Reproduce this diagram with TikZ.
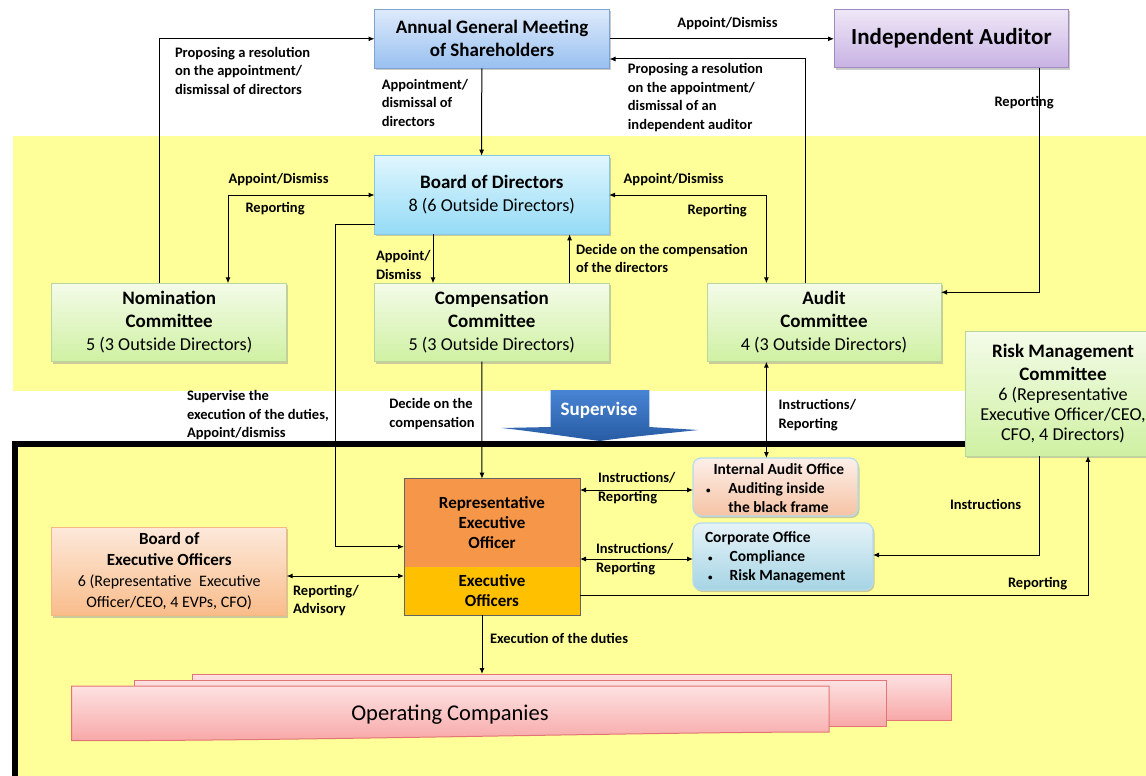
\documentclass[tikz,border=0pt]{standalone}
\usepackage{fontspec}
\setmainfont{Carlito}
\usetikzlibrary{arrows.meta,shadows}

\definecolor{bandyellow}{RGB}{255,255,153}
\definecolor{agmtop}{RGB}{222,234,251}
\definecolor{agmbot}{RGB}{152,192,240}
\definecolor{agmline}{RGB}{128,162,208}
\definecolor{audtop}{RGB}{239,231,247}
\definecolor{audbot}{RGB}{200,178,227}
\definecolor{audline}{RGB}{160,138,192}
\definecolor{bodtop}{RGB}{224,246,254}
\definecolor{bodbot}{RGB}{148,219,246}
\definecolor{bodline}{RGB}{138,198,228}
\definecolor{comtop}{RGB}{244,251,233}
\definecolor{combot}{RGB}{207,241,162}
\definecolor{comline}{RGB}{184,214,158}
\definecolor{reofill}{RGB}{246,150,72}
\definecolor{eofill}{RGB}{255,192,0}
\definecolor{exline}{RGB}{100,100,100}
\definecolor{beotop}{RGB}{253,233,219}
\definecolor{beobot}{RGB}{249,188,138}
\definecolor{beoline}{RGB}{244,184,128}
\definecolor{iaotop}{RGB}{252,239,233}
\definecolor{iaobot}{RGB}{246,195,164}
\definecolor{offline}{RGB}{180,220,238}
\definecolor{corptop}{RGB}{230,243,248}
\definecolor{corpbot}{RGB}{165,212,228}
\definecolor{optop}{RGB}{253,226,226}
\definecolor{opbot}{RGB}{248,168,168}
\definecolor{opline}{RGB}{226,118,118}
\definecolor{suptop}{RGB}{72,132,212}
\definecolor{supbot}{RGB}{40,92,164}

% smaller regular line inside the committee boxes
\newcommand\subtxt[1]{{\fontsize{18.2}{23}\selectfont #1}}
\newcommand\beohead[1]{{\fontsize{17}{21}\selectfont\bfseries #1}}
% small list bullet followed by a tab stop
\newcommand\listmark[1]{\makebox[#1][l]{\fontsize{9}{9}\selectfont\textbullet}}

\begin{document}
\begin{tikzpicture}[x=1pt,y=-1pt,
  every node/.style={inner sep=0pt,outer sep=0pt},
  conn/.style={line width=1pt,draw=black},
  arr/.style={conn,-{Latex[length=6pt,width=5pt]}},
  both/.style={conn,{Latex[length=6pt,width=5pt]}-{Latex[length=6pt,width=5pt]}},
  lbl/.style={font=\fontsize{14.5}{18.5}\selectfont\bfseries,align=left,anchor=north west},
  box/.style={draw,line width=0.9pt,align=center,
    drop shadow={shadow xshift=1.5pt,shadow yshift=-2pt,fill=black!40,opacity=0.5}},
  titlefont/.style={font=\fontsize{19}{23}\selectfont},
  agmbox/.style={box,titlefont,top color=agmtop,bottom color=agmbot,draw=agmline},
  audbox/.style={box,top color=audtop,bottom color=audbot,draw=audline,
    font=\fontsize{23}{27}\selectfont\bfseries},
  bodbox/.style={box,titlefont,top color=bodtop,bottom color=bodbot,draw=bodline},
  combox/.style={box,titlefont,top color=comtop,bottom color=combot,draw=comline},
  exbox/.style={align=center,font=\fontsize{17}{20.3}\selectfont\bfseries},
  beobox/.style={box,top color=beotop,bottom color=beobot,draw=beoline,
    font=\fontsize{16}{21}\selectfont},
  officebox/.style={box,rounded corners=8pt,draw=offline,line width=1.2pt},
  officetxt/.style={align=left,anchor=west,font=\fontsize{15.5}{19}\selectfont\bfseries},
  opbox/.style={draw=opline,line width=1pt,top color=optop,bottom color=opbot}
]
\useasboundingbox (0,0) rectangle (1146,776);
\clip (0,0) rectangle (1146,776);

% background bands and the black frame
\fill[white] (0,0) rectangle (1146,776);
\fill[bandyellow] (12.5,136) rectangle (1146,390.5);
\fill[bandyellow] (15,444) rectangle (1170,800);
\draw[line width=6pt] (15,444) rectangle (1170,800);

% block arrow
\shade[top color=suptop,bottom color=supbot]
  (550.7,390) -- (649.3,390) -- (649.3,427) -- (698.3,430)
  .. controls (660,434) and (620,438) .. (600,441)
  .. controls (570,437) and (530,431) .. (501.7,428) -- (550.7,427) -- cycle;
\node[font=\fontsize{19}{23}\selectfont\bfseries,text=white] (sup) at (599,410) {Supervise};

% top level
\node[agmbox,minimum width=235pt,minimum height=59pt] (agm) at (492,38.8)
  {\textbf{Annual General Meeting}\\\textbf{of Shareholders}};
\node[audbox,minimum width=234.7pt,minimum height=58.4pt] (aud) at (951.4,38.5)
  {Independent Auditor};

% board and committees
\node[bodbox,minimum width=234.5pt,minimum height=78.6pt] (bod) at (491.8,195)
  {\textbf{Board of Directors}\\\subtxt{8 (6 Outside Directors)}};
\node[combox,minimum width=234.8pt,minimum height=78.4pt] (nom) at (169.2,322.5)
  {\textbf{Nomination}\\\textbf{Committee}\\\subtxt{5 (3 Outside Directors)}};
\node[combox,minimum width=234.5pt,minimum height=78.4pt] (comp) at (491.8,322.5)
  {\textbf{Compensation}\\\textbf{Committee}\\\subtxt{5 (3 Outside Directors)}};
\node[combox,minimum width=234pt,minimum height=78.4pt] (audc) at (824,322.5)
  {\textbf{Audit}\\\textbf{Committee}\\\subtxt{4 (3 Outside Directors)}};
\node[combox,minimum width=196pt,minimum height=124.3pt] (risk) at (1063,393.8)
  {\textbf{Risk Management}\\\textbf{Committee}\\[-3pt]
   \subtxt{6 (Representative}\\[-3pt]\subtxt{Executive Officer/CEO,}\\[-3pt]\subtxt{CFO, 4 Directors)}};

% executive side
\node[exbox,fill=reofill,minimum width=176pt,minimum height=88pt] (reo) at (492,522.7)
  {Representative\\Executive\\Officer};
\node[exbox,fill=eofill,minimum width=176pt,minimum height=48.3pt] (eo) at (492,590.85)
  {Executive\\Officers};
\draw[exline,line width=1pt] (reo.north west) rectangle (eo.south east);

\node[beobox,minimum width=234.8pt,minimum height=88.7pt] (beo) at (169.2,571.35)
  {\beohead{Board of}\\\beohead{Executive Officers}\\6 (Representative\hspace{4pt} Executive\\Officer/CEO, 4 EVPs, CFO)};

\node[officebox,top color=iaotop,bottom color=iaobot,minimum width=165pt,
  minimum height=58pt] (iao) at (775.5,487) {};
\node[officetxt] (iaotxt) at ([xshift=13pt,yshift=-1pt]iao.west)
  {\hspace*{7.5pt}Internal Audit Office\\\listmark{22.3pt}Auditing inside\\\hspace*{22.3pt}the black frame};
\node[officebox,top color=corptop,bottom color=corpbot,minimum width=180pt,
  minimum height=67pt] (corp) at (783,556.5) {};
\node[officetxt] (corptxt) at ([xshift=12pt,yshift=-0.5pt]corp.west)
  {Corporate Office\\\hspace*{3pt}\listmark{21.7pt}Compliance\\\hspace*{3pt}\listmark{21.7pt}Risk Management};

% operating companies, stacked
\node[opbox,minimum width=758.5pt,minimum height=46pt] (opback) at (571.75,697) {};
\node[opbox,minimum width=751.6pt,minimum height=46pt] (opmid) at (510.2,703) {};
\shadedraw[opbox] (71.5,686) -- (829,686) -- (829,732)
  .. controls (650,732) and (300,741) .. (71.5,740.7) -- cycle;
\node[font=\fontsize{22.5}{27}\selectfont] (opco) at (450,715) {Operating Companies};

% connectors
\draw[arr] ([xshift=-9.5pt]nom.north) |- (agm.west);
\draw[arr] ([xshift=-10.2pt]agm.south) -- ([xshift=-10.2pt]bod.north);
\draw[arr] (agm.east) -- (agm.east -| aud.west);
\draw[arr] ([xshift=-19pt]audc.north) |- ([yshift=-20.2pt]agm.east);
\draw[arr] ([xshift=88pt]aud.south) |- ([yshift=-9pt]audc.north east);
\draw[both] (bod.west) -| ([xshift=58.8pt]nom.north);
\draw[both] (bod.east) -| ([xshift=-57.6pt]audc.north);
\draw[arr] ([xshift=-58.8pt]bod.south) -- ([xshift=-58.8pt]comp.north);
\draw[arr] ([xshift=77.8pt]comp.north) -- ([xshift=77.8pt]bod.south);
\draw[arr] ([yshift=-29.3pt]bod.west) -- ++(-39,0) |- ([yshift=-24pt]reo.west);
\draw[arr] ([xshift=-10pt]comp.south) -- ([xshift=-10pt]reo.north);
\path ([xshift=-57.6pt]audc.south) coordinate (c12);
\draw[both] (c12) -- (c12 |- iao.north);
\path ([yshift=-3pt]iao.west) coordinate (c13);
\draw[both] (c13 -| reo.east) -- (c13);
\path ([yshift=-2.5pt]corp.west) coordinate (c14);
\draw[both] (c14 -| reo.east) -- (c14);
\draw[arr] ([xshift=-23.6pt]risk.south) |- ([yshift=1.5pt]corp.east);
\draw[arr] ([yshift=-4.85pt]eo.east) -| ([xshift=25pt]risk.south);
\path ([yshift=-4.65pt]beo.east) coordinate (c17);
\draw[both] (c17) -- (c17 -| eo.west);
\path ([xshift=-10pt]eo.south) coordinate (c18);
\draw[arr] (c18) -- (c18 |- opback.north);

% connector labels
\node[lbl] (l1) at (175,47.2) {Proposing a resolution\\on the appointment/\\dismissal of directors};
\node[lbl] (l2) at (381.8,79.2) {Appointment/\\dismissal of\\directors};
\node[lbl,anchor=north] (l3) at (727.5,17.8) {Appoint/Dismiss};
\node[lbl] (l4) at (627.9,63.8) {Proposing a resolution\\on the appointment/\\dismissal of an\\independent auditor};
\node[lbl] (l5) at (994.5,96.2) {Reporting};
\node[lbl] (l6a) at (228.5,173.8) {Appoint/Dismiss};
\node[lbl] (l6b) at (245.5,202.8) {Reporting};
\node[lbl] (l7a) at (623.7,173.8) {Appoint/Dismiss};
\node[lbl] (l7b) at (687.7,204.8) {Reporting};
\node[lbl] (l8) at (376,250.8) {Appoint/\\Dismiss};
\node[lbl] (l9) at (576,244.2) {Decide on the compensation\\of the directors};
\node[lbl] (l10) at (187,390.5) {Supervise the\\execution of the duties,\\Appoint/dismiss};
\node[lbl] (l11) at (389.3,398.8) {Decide on the\\compensation};
\node[lbl] (l12) at (778.6,399.8) {Instructions/\\Reporting};
\node[lbl,font=\fontsize{14.5}{19.3}\selectfont\bfseries] (l13) at (598,472.2) {Instructions/\\Reporting};
\node[lbl,font=\fontsize{14.5}{19.4}\selectfont\bfseries] (l14) at (596,542.8) {Instructions/\\Reporting};
\node[lbl] (l15) at (950,499.5) {Instructions};
\node[lbl] (l16) at (1008,577.5) {Reporting};
\node[lbl,font=\fontsize{14.5}{18}\selectfont\bfseries] (l17) at (293,585.2) {Reporting/\\Advisory};
\node[lbl] (l18) at (490,633.2) {Execution of the duties};
\end{tikzpicture}
\end{document}
